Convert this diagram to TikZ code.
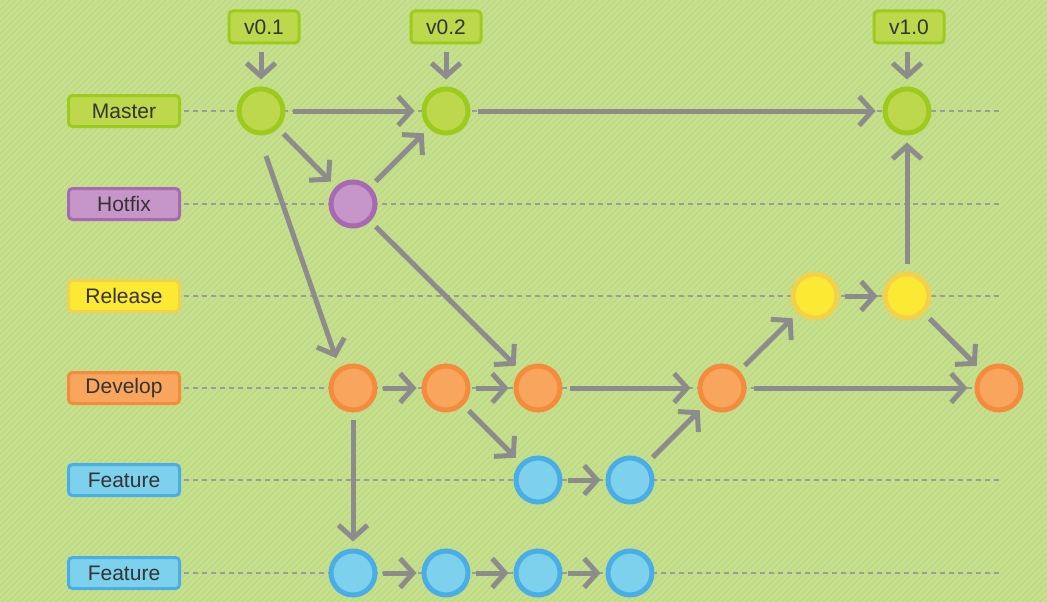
\documentclass[tikz,border=0pt]{standalone}
\usepackage{fontspec}
\setmainfont{Liberation Sans}
\usetikzlibrary{arrows.meta,calc}
\definecolor{bg}{HTML}{C6E08E}
\definecolor{stripe}{HTML}{BCD884}
\definecolor{mfill}{HTML}{BDD84C}
\definecolor{mdraw}{HTML}{9CCB1E}
\definecolor{hfill}{HTML}{C796C9}
\definecolor{hdraw}{HTML}{A769B4}
\definecolor{rfill}{HTML}{FCE934}
\definecolor{rdraw}{HTML}{F2D24A}
\definecolor{dfill}{HTML}{F8A55E}
\definecolor{ddraw}{HTML}{F58B3C}
\definecolor{ffill}{HTML}{7DD1EC}
\definecolor{fdraw}{HTML}{4AAEE6}
\definecolor{agray}{HTML}{8C8C8C}
\definecolor{dgray}{HTML}{9C9C9C}
\definecolor{txt}{HTML}{333333}
\begin{document}
\begin{tikzpicture}[x=1pt,y=-1pt,
  lbl/.style={draw, rounded corners=4pt, line width=3pt, minimum width=111pt, minimum height=31pt, inner sep=0pt, outer sep=1.5pt, text=txt, font=\fontsize{21}{24}\selectfont},
  tag/.style={lbl, minimum width=70pt, minimum height=32pt},
  commit/.style={circle, line width=5pt, minimum size=44pt, inner sep=0pt, outer sep=2.5pt},
  mc/.style={commit, draw=mdraw, fill=mfill},
  hc/.style={commit, draw=hdraw, fill=hfill},
  rc/.style={commit, draw=rdraw, fill=rfill},
  dc/.style={commit, draw=ddraw, fill=dfill},
  fc/.style={commit, draw=fdraw, fill=ffill},
  lane/.style={draw=dgray, line width=1.5pt, dash pattern=on 5pt off 4pt},
  arr/.style={draw=agray, line width=5pt, -{Straight Barb[length=13pt,width=29pt]}, shorten >=7pt, shorten <=7.5pt}
]
\useasboundingbox (0,0) rectangle (1047,602);
\fill[bg] (0,0) rectangle (1047,602);
\begin{scope}
  \clip (0,0) rectangle (1047,602);
  \foreach \i in {-610,-604,...,1050}
    \draw[stripe, line width=1.3pt] (\i,602) -- ++(602,-602);
\end{scope}

% branch labels
\node[lbl, draw=mdraw, fill=mfill] (lm) at (124,111) {Master};
\node[lbl, draw=hdraw, fill=hfill] (lh) at (124,204) {Hotfix};
\node[lbl, draw=rdraw, fill=rfill] (lr) at (124,296) {Release};
\node[lbl, draw=ddraw, fill=dfill] (ld) at (124,388) {Develop};
\node[lbl, draw=fdraw, fill=ffill] (lf1) at (124,480) {Feature};
\node[lbl, draw=fdraw, fill=ffill] (lf2) at (124,573) {Feature};

% lane ends
\coordinate (em) at (1001,111);
\coordinate (eh) at (1001,204);
\coordinate (er) at (1001,296);
\coordinate (ed) at (1001,388);
\coordinate (ef1) at (1001,480);
\coordinate (ef2) at (1001,573);
\draw[lane] ([xshift=3pt]lm.east) -- (em);
\draw[lane] ([xshift=3pt]lh.east) -- (eh);
\draw[lane] ([xshift=3pt]lr.east) -- (er);
\draw[lane] ([xshift=3pt]ld.east) -- (ed);
\draw[lane] ([xshift=3pt]lf1.east) -- (ef1);
\draw[lane] ([xshift=3pt]lf2.east) -- (ef2);

% version tags
\node[tag, draw=mdraw, fill=mfill] (t1) at (264,27) {v0.1};
\node[tag, draw=mdraw, fill=mfill] (t2) at (446,27) {v0.2};
\node[tag, draw=mdraw, fill=mfill] (t3) at (909,27) {v1.0};

% commits
\node[mc] (m1) at (261,111) {};
\node[mc] (m2) at (446,111) {};
\node[mc] (m3) at (907,111) {};
\node[hc] (h1) at (353,204) {};
\node[rc] (r1) at (815,296) {};
\node[rc] (r2) at (907,296) {};
\node[dc] (d1) at (353,388) {};
\node[dc] (d2) at (446,388) {};
\node[dc] (d3) at (538,388) {};
\node[dc] (d4) at (722,388) {};
\node[dc] (d5) at (999,388) {};
\node[fc] (fa1) at (538,480) {};
\node[fc] (fa2) at (630,480) {};
\node[fc] (fb1) at (353,573) {};
\node[fc] (fb2) at (446,573) {};
\node[fc] (fb3) at (538,573) {};
\node[fc] (fb4) at (630,573) {};

% arrows
\draw[arr] (t1.south -| m1) -- (m1);
\draw[arr] (t2) -- (m2);
\draw[arr] (t3.south -| m3) -- (m3);
\draw[arr] (m1) -- (m2);
\draw[arr] (m2) -- (m3);
\draw[arr] (m1) -- (h1);
\draw[arr] (h1) -- (m2);
\draw[arr, shorten <=0pt, shorten >=0pt] ($(m1)+(5,45)$) -- ($(d1)+(-17,-30)$);
\draw[arr] (h1) -- (d3);
\draw[arr, shorten <=5pt, shorten >=5pt] (d1) -- (d2);
\draw[arr, shorten <=5pt, shorten >=5pt] (d2) -- (d3);
\draw[arr] (d3) -- (d4);
\draw[arr] (d2) -- (fa1);
\draw[arr, shorten <=5pt, shorten >=5pt] (fa1) -- (fa2);
\draw[arr] (fa2) -- (d4);
\draw[arr] (d1) -- (fb1);
\draw[arr, shorten <=5pt, shorten >=5pt] (fb1) -- (fb2);
\draw[arr, shorten <=5pt, shorten >=5pt] (fb2) -- (fb3);
\draw[arr, shorten <=5pt, shorten >=5pt] (fb3) -- (fb4);
\draw[arr] (d4) -- (r1);
\draw[arr, shorten <=5pt, shorten >=5pt] (r1) -- (r2);
\draw[arr] (r2) -- (m3);
\draw[arr] (r2) -- (d5);
\draw[arr] (d4) -- (d5);
\end{tikzpicture}
\end{document}
